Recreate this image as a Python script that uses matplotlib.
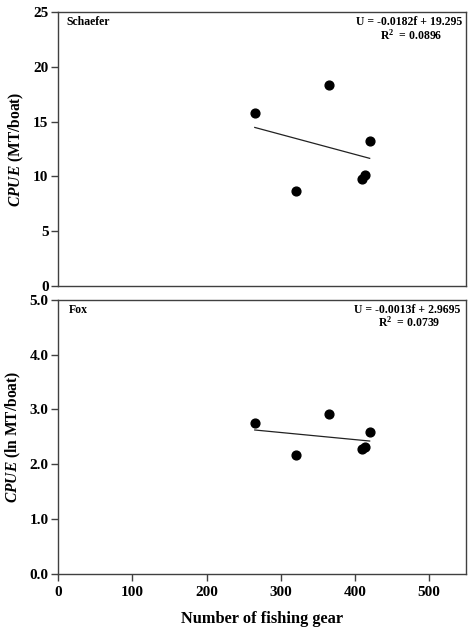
import matplotlib
matplotlib.use("Agg")
import matplotlib.pyplot as plt

plt.rcParams['font.family'] = ['Liberation Serif', 'DejaVu Serif']
plt.rcParams['font.weight'] = 'bold'
plt.rcParams['mathtext.fontset'] = 'custom'
plt.rcParams['mathtext.it'] = 'Liberation Serif:italic:bold'
plt.rcParams['mathtext.rm'] = 'Liberation Serif:bold'
plt.rcParams['mathtext.bf'] = 'Liberation Serif:bold'

gear = [265, 320, 365, 409, 414, 420]
cpue = [15.76, 8.67, 18.34, 9.76, 10.13, 13.23]
ln_cpue = [2.76, 2.16, 2.91, 2.28, 2.31, 2.58]

schaefer_slope, schaefer_int = -0.0182, 19.295
fox_slope, fox_int = -0.0013, 2.9695
line_x = [265, 420]

x_ticks = [0, 100, 200, 300, 400, 500]
top_yticks = [0, 5, 10, 15, 20, 25]
bot_yticks = [0.0, 1.0, 2.0, 3.0, 4.0, 5.0]

fig = plt.figure(figsize=(4.73, 6.31), dpi=100)
ax1 = fig.add_axes([0.1233, 0.5468, 0.862, 0.434])
ax2 = fig.add_axes([0.1233, 0.0908, 0.862, 0.4338])

spine_col = '#404040'
for ax in (ax1, ax2):
    for s in ax.spines.values():
        s.set_color(spine_col)
        s.set_linewidth(1.0)
    ax.set_xlim(0, 550)
    ax.tick_params(axis='y', direction='out', length=5, width=1, color=spine_col, labelsize=11, pad=2)
    ax.tick_params(axis='x', direction='out', length=5, width=1, color=spine_col, labelsize=11, pad=4)

ann = 8.5
lab = 11.2
# Top: Schaefer
ax1.scatter(gear, cpue, s=40, color='black', zorder=3)
ax1.plot(line_x, [schaefer_slope * v + schaefer_int for v in line_x], color='#222222', lw=0.9)
ax1.set_ylim(0, 25)
ax1.set_yticks(top_yticks)
ax1.set_yticklabels([str(v) for v in top_yticks])
ax1.set_xticks([])
ax1.set_ylabel(r'$CPUE$ (MT/boat)', fontsize=lab, fontweight='bold')
ax1.yaxis.set_label_coords(-0.08, 0.5)
ax1.text(0.02, 0.963, 'Schaefer', transform=ax1.transAxes, fontsize=ann, fontweight='bold', va='center', ha='left')
ax1.text(0.99, 0.963, 'U = -0.0182f + 19.295', transform=ax1.transAxes, fontsize=ann, fontweight='bold', va='center', ha='right')
ax1.text(0.865, 0.916, r'R$^{2}$  = 0.0896', transform=ax1.transAxes, fontsize=ann, fontweight='bold', va='center', ha='center')

# Bottom: Fox
ax2.scatter(gear, ln_cpue, s=40, color='black', zorder=3)
ax2.plot(line_x, [fox_slope * v + fox_int for v in line_x], color='#222222', lw=0.9)
ax2.set_ylim(0, 5)
ax2.set_yticks(bot_yticks)
ax2.set_yticklabels([f'{v:.1f}' for v in bot_yticks])
ax2.set_xticks(x_ticks)
ax2.set_xticklabels([str(v) for v in x_ticks])
ax2.set_ylabel(r'$CPUE$ (ln MT/boat)', fontsize=lab, fontweight='bold')
ax2.yaxis.set_label_coords(-0.086, 0.5)
ax2.set_xlabel('Number of fishing gear', fontsize=11.8, fontweight='bold')
ax2.xaxis.set_label_coords(0.5, -0.138)
ax2.text(0.025, 0.964, 'Fox', transform=ax2.transAxes, fontsize=ann, fontweight='bold', va='center', ha='left')
ax2.text(0.985, 0.964, 'U = -0.0013f + 2.9695', transform=ax2.transAxes, fontsize=ann, fontweight='bold', va='center', ha='right')
ax2.text(0.86, 0.917, r'R$^{2}$  = 0.0739', transform=ax2.transAxes, fontsize=ann, fontweight='bold', va='center', ha='center')

fig.savefig('out.png', dpi=100)
